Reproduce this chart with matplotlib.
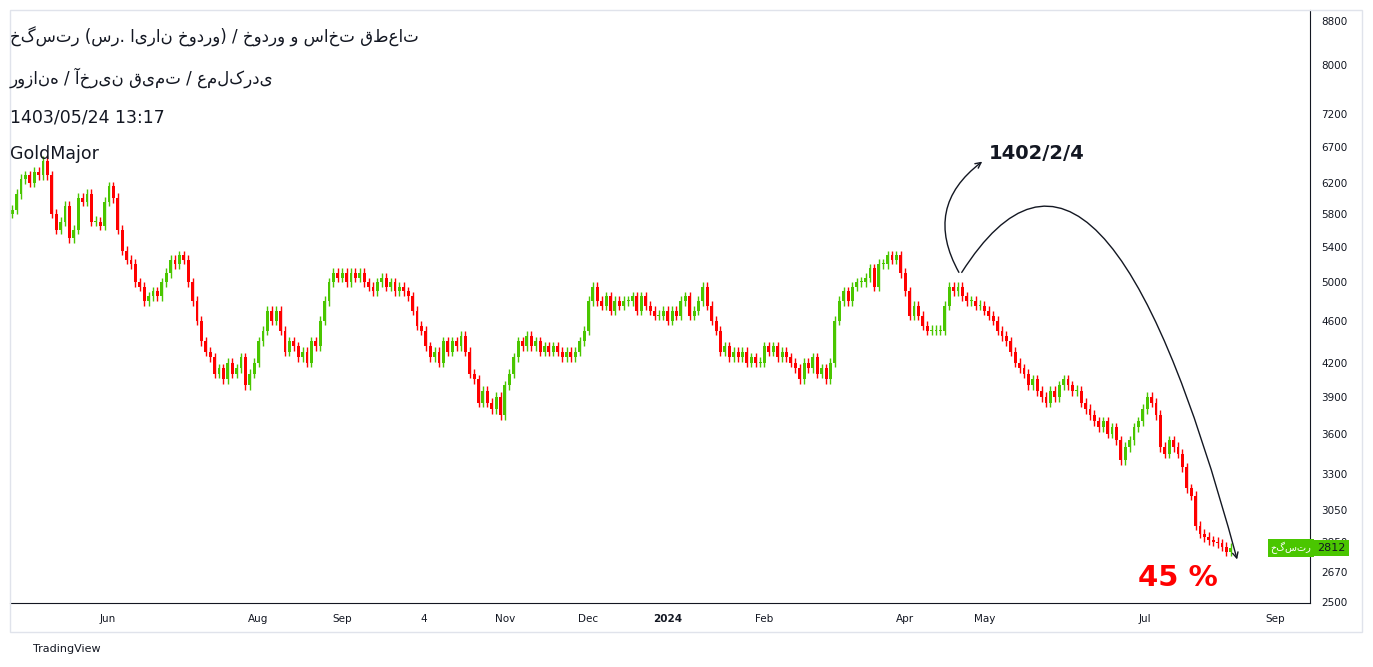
import matplotlib.pyplot as plt
import numpy as np
from matplotlib.ticker import FixedLocator, FixedFormatter, NullLocator

# daily closes (estimated from the chart), one per trading bar
closes = [
    5850, 6050, 6250, 6300, 6200, 6350, 6300, 6500, 6300, 5800,
    5600, 5700, 5900, 5500, 5600, 6000, 5950, 6050, 5700, 5700,
    5650, 5950, 6150, 6000, 5600, 5350, 5250, 5200, 5000, 4950,
    4800, 4850, 4900, 4850, 5000, 5100, 5250, 5200, 5300, 5250,
    5000, 4800, 4600, 4400, 4300, 4250, 4100, 4150, 4050, 4200,
    4100, 4150, 4250, 4000, 4100, 4200, 4400, 4500, 4700, 4600,
    4700, 4500, 4300, 4400, 4350, 4250, 4300, 4200, 4400, 4350,
    4600, 4800, 5000, 5100, 5050, 5100, 5000, 5100, 5050, 5100,
    5000, 4950, 4900, 5000, 5050, 4950, 5000, 4900, 4950, 4900,
    4850, 4700, 4550, 4500, 4350, 4250, 4300, 4200, 4400, 4300,
    4400, 4350, 4450, 4300, 4100, 4050, 3850, 3950, 3850, 3800,
    3900, 3750, 4000, 4100, 4250, 4400, 4350, 4450, 4350, 4400,
    4300, 4350, 4300, 4350, 4300, 4250, 4300, 4250, 4300, 4400,
    4500, 4800, 4950, 4800, 4750, 4850, 4700, 4800, 4750, 4800,
    4800, 4850, 4700, 4850, 4750, 4700, 4650, 4650, 4700, 4600,
    4700, 4650, 4800, 4850, 4650, 4700, 4800, 4950, 4750, 4600,
    4500, 4300, 4350, 4250, 4300, 4250, 4300, 4200, 4250, 4200,
    4200, 4350, 4300, 4350, 4250, 4300, 4250, 4200, 4150, 4050,
    4200, 4150, 4250, 4100, 4150, 4050, 4200, 4600, 4800, 4900,
    4800, 4950, 5000, 5000, 5050, 5150, 4950, 5200, 5200, 5300,
    5250, 5300, 5100, 4900, 4650, 4750, 4650, 4550, 4500, 4500,
    4500, 4500, 4750, 4950, 4900, 4950, 4850, 4800, 4800, 4750,
    4750, 4700, 4650, 4600, 4500, 4450, 4400, 4300, 4200, 4150,
    4100, 4000, 4050, 3950, 3900, 3850, 3950, 3900, 4000, 4050,
    4000, 3950, 3950, 3850, 3800, 3750, 3700, 3650, 3700, 3600,
    3650, 3550, 3400, 3500, 3550, 3650, 3700, 3800, 3900, 3850,
    3750, 3500, 3450, 3550, 3500, 3450, 3350, 3200, 3150, 2950,
    2900, 2880, 2860, 2850, 2840, 2820, 2790, 2812,
]
first_open = 5800

price_ticks = [2500, 2670, 2850, 3050, 3300, 3600, 3900, 4200, 4600,
               5000, 5400, 5800, 6200, 6700, 7200, 8000, 8800]
month_pos = [21.6, 56, 75, 93.6, 112, 131, 149, 171, 203, 221, 257.5, 287]
month_labels = ['Jun', 'Aug', 'Sep', '4', 'Nov', 'Dec', '2024', 'Feb',
                'Apr', 'May', 'Jul', 'Sep']

opens = [first_open] + closes[:-1]
up = '#4ac600'
down = '#ff0000'

W, H = 1373, 667
fig = plt.figure(figsize=(W / 100, H / 100), dpi=100)
ax = fig.add_axes([10 / W, (H - 603) / H, 1300 / W, 593 / H])

for i, (o, c) in enumerate(zip(opens, closes)):
    col = up if c >= o else down
    lo, hi = min(o, c), max(o, c)
    if hi - lo < 8:
        hi = lo + 8
    ax.bar(i, hi - lo, bottom=lo, width=0.65, color=col, linewidth=0)
    ax.vlines(i, lo * 0.99, hi * 1.01, color=col, linewidth=1)

ax.set_yscale('log')
ax.set_ylim(2500 * 0.9985, 9011)
ax.set_xlim(-0.5, 295)
ax.yaxis.tick_right()
ax.yaxis.set_major_locator(FixedLocator(price_ticks))
ax.yaxis.set_major_formatter(FixedFormatter([str(t) for t in price_ticks]))
ax.yaxis.set_minor_locator(NullLocator())
ax.set_xticks(month_pos)
ax.set_xticklabels(month_labels)
for lab in ax.get_xticklabels():
    if lab.get_text() == '2024':
        lab.set_fontweight('bold')
ax.tick_params(axis='both', length=0, labelsize=7.5, colors='#131722', pad=8)
for s in ['top', 'left']:
    ax.spines[s].set_visible(False)
ax.spines['right'].set_color('#131722')
ax.spines['bottom'].set_color('#131722')

# outer frame
fig.add_artist(plt.Rectangle((10 / W, (H - 632) / H), 1352 / W, 622 / H,
                             transform=fig.transFigure, fill=False,
                             edgecolor='#e0e3eb', linewidth=1))

# header text
fig.text(10 / W, 1 - 37 / H, 'خگستر (سر. ایران خودرو) / خودرو و ساخت قطعات',
         fontsize=12, va='center', color='#131722', family='DejaVu Sans')
fig.text(10 / W, 1 - 78 / H, 'روزانه / آخرین قیمت / عملکردی',
         fontsize=12, va='center', color='#131722', family='DejaVu Sans')
fig.text(10 / W, 1 - 118 / H, '1403/05/24 13:17', fontsize=12.5, va='center', color='#131722')
fig.text(10 / W, 1 - 154 / H, 'GoldMajor', fontsize=12.5, va='center', color='#131722')
fig.text(33 / W, 1 - 649 / H, 'TradingView', fontsize=8, va='center', color='#131722')

# last price labels
fig.text(1331 / W, 1 - 548 / H, str(closes[-1]), fontsize=8, ha='center', va='center',
         color='#131722', bbox=dict(boxstyle='square,pad=0.3', fc=up, ec='none'))
fig.text(1291 / W, 1 - 548 / H, 'خگستر', fontsize=7, ha='center', va='center',
         color='white', bbox=dict(boxstyle='square,pad=0.25', fc=up, ec='none'))

# annotations
ax.annotate('', xy=(278.6, 2727), xytext=(215.5, 5080),
            arrowprops=dict(arrowstyle='->', color='#131722', lw=1,
                            connectionstyle='angle3,angleA=58,angleB=105'))
ax.annotate('', xy=(221, 6513), xytext=(215.5, 5080),
            arrowprops=dict(arrowstyle='->', color='#131722', lw=1,
                            connectionstyle='arc3,rad=-0.45'))
ax.text(222, 6600, '1402/2/4', fontsize=14, fontweight='bold', va='center', color='#131722')
ax.text(265, 2633, '45 %', fontsize=21, fontweight='bold', ha='center', va='center', color='#ff0000')

fig.savefig('out.png', dpi=100)
